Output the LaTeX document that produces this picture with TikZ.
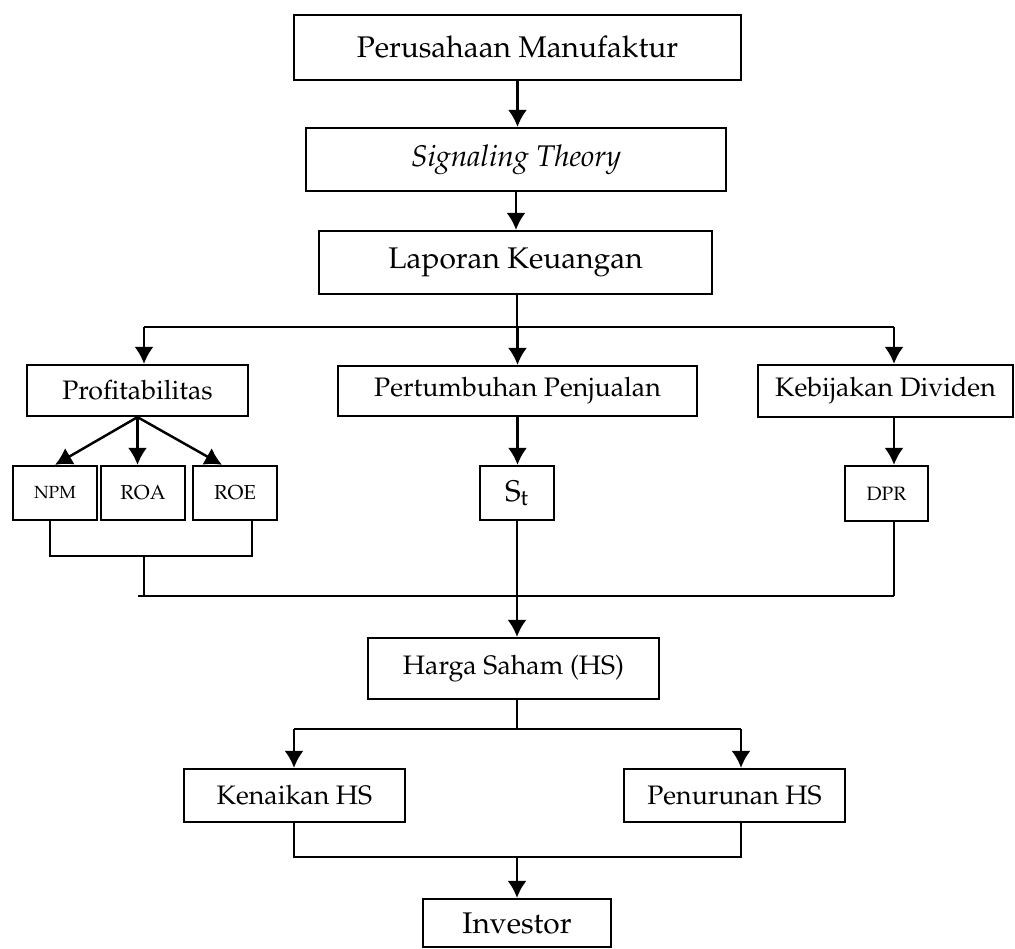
\documentclass[tikz,border=0pt]{standalone}
\usepackage[T1]{fontenc}
\usepackage{mathpazo}
\usetikzlibrary{arrows.meta}

\begin{document}
\begin{tikzpicture}[x=0.02cm,y=-0.02cm,
	kotak/.style={draw,line width=1.3pt,inner sep=0pt,font=\fontsize{17}{20}\selectfont},
	sedang/.style={kotak,font=\fontsize{15.2}{18}\selectfont},
	kecil/.style={draw,line width=1.3pt,inner sep=0pt,minimum width=1.68cm,minimum height=1.08cm},
	panah/.style={line width=1.4pt,-{Latex[length=3.4mm,width=3.8mm]}},
	garis/.style={line width=1.2pt}]

	\useasboundingbox (0,0) rectangle (1015,949);

	% kotak utama
	\node[kotak,minimum width=8.94cm,minimum height=1.30cm] (pm) at (517.5,47.5) {Perusahaan Manufaktur};
	\node[kotak,minimum width=8.40cm,minimum height=1.26cm] (sig) at (516,159.5) {\textit{Signaling Theory}};
	\node[kotak,minimum width=7.86cm,minimum height=1.26cm] (lap) at (515.5,262.5) {Laporan Keuangan};

	\node[sedang,minimum width=4.42cm,minimum height=1.02cm] (prof) at (137.5,390.5) {Profitabilitas};
	\node[sedang,minimum width=7.18cm,minimum height=1.00cm] (pert) at (517.5,391) {Pertumbuhan Penjualan};
	\node[sedang,minimum width=5.10cm,minimum height=1.04cm] (keb) at (885.5,391) {Kebijakan Dividen};

	\node[kecil,font=\fontsize{10}{12}\selectfont] (npm) at (55,493) {NPM};
	\node[kecil,font=\fontsize{11.5}{13}\selectfont] (roa) at (143,493) {ROA};
	\node[kecil,font=\fontsize{11.5}{13}\selectfont] (roe) at (235,493) {ROE};
	\node[kotak,minimum width=1.48cm,minimum height=1.08cm] (st) at (517,493) {S\textsubscript{t}};
	\node[kecil,minimum width=1.66cm,minimum height=1.10cm,font=\fontsize{11}{13}\selectfont] (dpr) at (886.5,493.5) {DPR};

	\node[sedang,minimum width=5.82cm,minimum height=1.22cm] (hs) at (513.5,668.5) {Harga Saham (HS)};
	\node[sedang,minimum width=4.42cm,minimum height=1.06cm] (ken) at (294.5,795.5) {Kenaikan HS};
	\node[sedang,minimum width=4.42cm,minimum height=1.06cm] (pen) at (734.5,795.5) {Penurunan HS};
	\node[kotak,minimum width=3.76cm,minimum height=0.96cm] (inv) at (517,923) {Investor};

	% titik bantu
	\coordinate (kiri1) at (144,327);
	\coordinate (kanan1) at (894,327);
	\coordinate (kurung1) at (144,556);
	\coordinate (kiri2) at (138,596);
	\coordinate (kanan2) at (894,596);
	\coordinate (kiri3) at (294,729);
	\coordinate (kanan3) at (741,729);
	\coordinate (kurung2) at (517,857);

	% panah atas
	\draw[panah] (pm.south) -- (pm.south |- sig.north);
	\draw[panah] (sig.south) -- (sig.south |- lap.north);
	\draw[garis] (kurung2 |- lap.south) -- (kurung2 |- kiri1);
	\draw[garis] (kiri1) -- (kanan1);
	\draw[panah] (kiri1) -- (kiri1 |- prof.north);
	\draw[panah] (pert.north |- kiri1) -- (pert.north);
	\draw[panah] (kanan1) -- (kanan1 |- keb.north);

	% cabang ke indikator
	\draw[panah] (prof.south) -- (npm.north);
	\draw[panah] (prof.south) -- (prof.south |- roa.north);
	\draw[panah] (prof.south) -- ([xshift=-0.26cm]roe.north);
	\draw[panah] (pert.south) -- (pert.south |- st.north);
	\draw[panah] (kanan1 |- keb.south) -- (kanan1 |- dpr.north);

	% gabungan ke harga saham
	\draw[garis] ([xshift=-0.1cm]npm.south) |- (kurung1) -| ([xshift=0.34cm]roe.south);
	\draw[garis] (kurung1) -- (kurung1 |- kiri2);
	\draw[garis] (kiri2) -- (kanan2);
	\draw[garis] (kanan2 |- dpr.south) -- (kanan2);
	\draw[panah] (st.south) -- (st.south |- hs.north);

	% harga saham ke investor
	\draw[garis] (kurung2 |- hs.south) -- (kurung2 |- kiri3);
	\draw[garis] (kiri3) -- (kanan3);
	\draw[panah] (kiri3) -- (kiri3 |- ken.north);
	\draw[panah] (kanan3) -- (kanan3 |- pen.north);
	\draw[garis] (kiri3 |- ken.south) |- (kurung2) -| (kanan3 |- pen.south);
	\draw[panah] (kurung2) -- (kurung2 |- inv.north);

\end{tikzpicture}
\end{document}
